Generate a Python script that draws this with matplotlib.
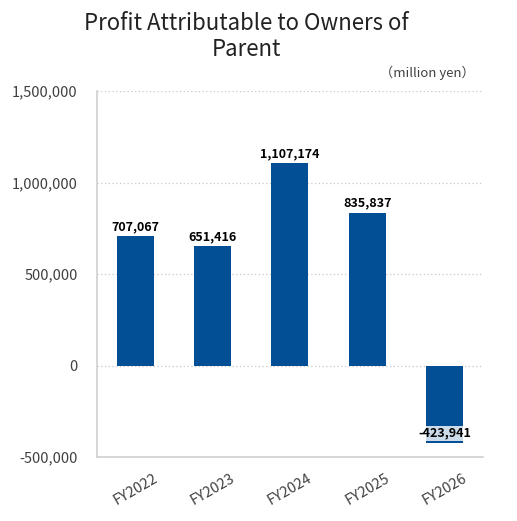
import matplotlib.pyplot as plt
from matplotlib.ticker import FuncFormatter

# data
years = ['FY2022', 'FY2023', 'FY2024', 'FY2025', 'FY2026']
profit = [707067, 651416, 1107174, 835837, -423941]

plt.rcParams['font.family'] = ['Noto Sans CJK JP', 'DejaVu Sans']

fig = plt.figure(figsize=(5.17, 5.21), dpi=100)
ax = fig.add_axes([0.1876, 0.1228, 0.7465, 0.7025])

bar_color = '#034f96'
bars = ax.bar(years, profit, width=0.48, color=bar_color, zorder=3)

ax.set_ylim(-500000, 1500000)
ax.set_xlim(-0.5, len(years) - 0.5)
ax.set_yticks([-500000, 0, 500000, 1000000, 1500000])
ax.yaxis.set_major_formatter(FuncFormatter(lambda v, p: f'{int(v):,}'))
ax.grid(axis='y', linestyle=(0, (1, 2)), color='#c8c8c8', linewidth=0.9, zorder=0)

for s in ['top', 'right']:
    ax.spines[s].set_visible(False)
for s in ['left', 'bottom']:
    ax.spines[s].set_color('#d0d0d0')
    ax.spines[s].set_linewidth(1.2)

ax.tick_params(axis='y', length=0, colors='#404040', labelsize=10.5, pad=14)
ax.tick_params(axis='x', length=0, colors='#404040', labelsize=10.5, pad=10)
for lbl in ax.get_xticklabels():
    lbl.set_rotation(30)
    lbl.set_ha('center')

for b, v in zip(bars, profit):
    x = b.get_x() + b.get_width() / 2
    if v >= 0:
        ax.text(x, v + 15000, f'{v:,}', ha='center', va='bottom',
                fontsize=9, fontweight='bold', color='black', zorder=4)
    else:
        ax.text(x, v + 18000, f'{v:,}', ha='center', va='bottom',
                fontsize=9, fontweight='bold', color='black', zorder=4,
                bbox=dict(facecolor='white', edgecolor='none', pad=0.5, alpha=0.8))

fig.text(0.476, 0.977, 'Profit Attributable to Owners of\nParent', ha='center', va='top',
         fontsize=16, color='#222222', linespacing=1.15)
fig.text(0.918, 0.86, '（million yen）', ha='right', va='center', fontsize=9.5, color='#404040')

fig.savefig('out.png', dpi=100)
